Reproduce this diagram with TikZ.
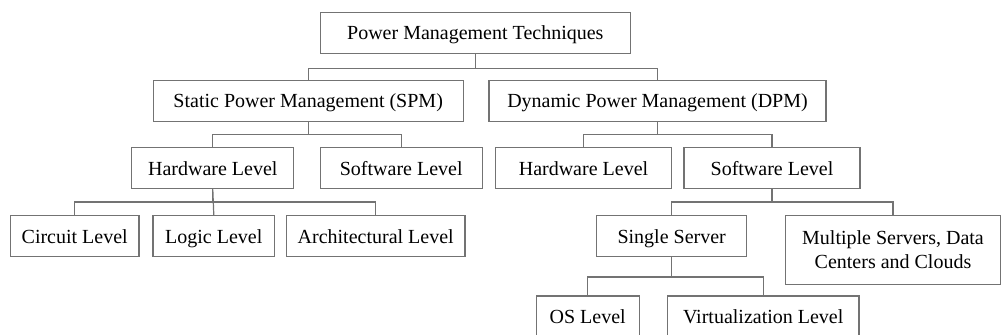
\documentclass[tikz,border=0pt]{standalone}
\usepackage{fontspec}
\setmainfont{Liberation Serif}
\begin{document}
\begin{tikzpicture}[x=0.5pt, y=-0.5pt,
    every node/.style={draw=black!55, line width=0.6pt, rectangle, inner sep=0pt,
        font=\fontsize{10}{12}\selectfont, minimum height=20.5pt,
        text height=6.8pt, text depth=0pt},
    link/.style={draw=black!55, line width=0.6pt}]
    \useasboundingbox (0,0) rectangle (1002,334);
    \clip (0,0) rectangle (1002,334);
    % level 0 and 1
    \node (root) [minimum width=155pt] at (475.3,33) {Power Management Techniques};
    \node (spm) [minimum width=155pt] at (308.2,100.7) {Static Power Management (SPM)};
    \node (dpm) [minimum width=168.5pt] at (657.5,100.7) {Dynamic Power Management (DPM)};
    % level 2
    \node (shw) [minimum width=81pt] at (212.8,168.3) {Hardware Level};
    \node (ssw) [minimum width=81pt] at (401.2,168.3) {Software Level};
    \node (dhw) [minimum width=88pt] at (583.5,168.3) {Hardware Level};
    \node (dsw) [minimum width=88pt] at (772,168.3) {Software Level};
    % level 3
    \node (circ) [minimum width=64.3pt] at (74.7,236.3) {Circuit Level};
    \node (logic) [minimum width=60.8pt] at (213.8,236.3) {Logic Level};
    \node (arch) [minimum width=89.3pt] at (375.7,236.3) {Architectural Level};
    \node (single) [minimum width=75pt] at (671.7,236.3) {Single Server};
    \node (multi) [minimum width=107.7pt, minimum height=34.4pt, align=center,
        text height={}, text depth={}] at (893,249.9)
        {Multiple Servers, Data\\Centers and Clouds};
    % level 4
    \node (os) [minimum width=51.6pt] at (587.7,316.5) {OS Level};
    \node (virt) [minimum width=95.8pt] at (763.2,316.5) {Virtualization Level};
    % connectors
    \draw[link] (root.south) -- ++(0,14) -| (spm.north);
    \draw[link] (root.south) -- ++(0,14) -| (dpm.north);
    \draw[link] (spm.south) -- ++(0,12.5) -| (shw.north);
    \draw[link] (spm.south) -- ++(0,12.5) -| (ssw.north);
    \draw[link] (dpm.south) -- ++(0,12.5) -| (dhw.north);
    \draw[link] (dpm.south) -- ++(0,12.5) -| (dsw.north);
    \draw[link] (shw.south) -- ++(0,12.5) -| (circ.north);
    \draw[link] (shw.south) -- (logic.north);
    \draw[link] (shw.south) -- ++(0,12.5) -| (arch.north);
    \draw[link] (dsw.south) -- ++(0,12.5) -| (single.north);
    \draw[link] (dsw.south) -- ++(0,12.5) -| (multi.north);
    \draw[link] (single.south) -- ++(0,19.5) -| (os.north);
    \draw[link] (single.south) -- ++(0,19.5) -| (virt.north);
\end{tikzpicture}
\end{document}
